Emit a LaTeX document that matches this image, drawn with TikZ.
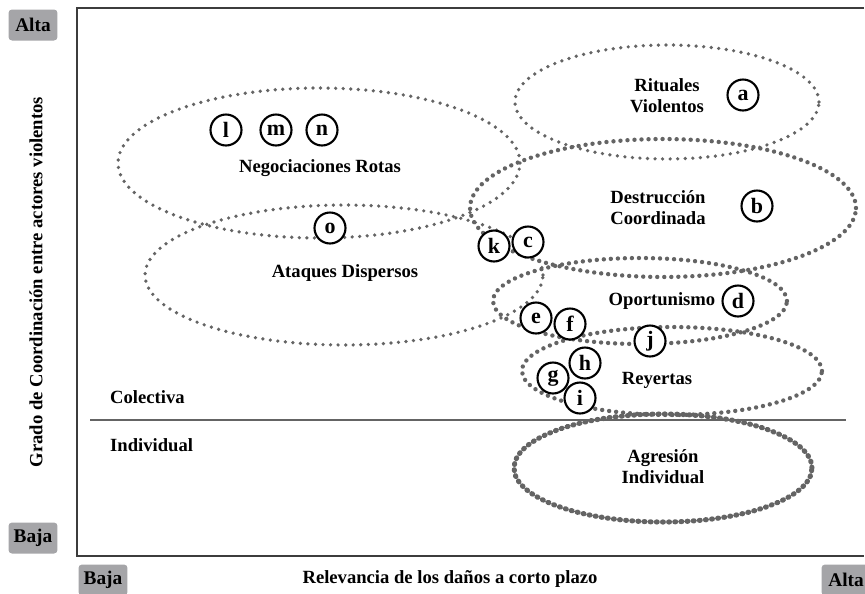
\documentclass[tikz,border=0pt]{standalone}
\usepackage{fontspec}
\setmainfont{Liberation Serif}
\usetikzlibrary{shapes.geometric,positioning}
\definecolor{dotgray}{RGB}{100,100,100}
\definecolor{framegray}{RGB}{60,60,60}
\definecolor{boxgray}{RGB}{165,165,168}
\tikzset
{
    caso/.style      = {circle, draw=black, fill=white, line width=1.2pt, align=center, minimum size=6.2mm, inner sep=0pt, font=\bfseries\fontsize{12.5}{12.5}\selectfont},
    zona/.style      = {ellipse, draw=dotgray, line width=2.1pt, line cap=round, dash pattern=on 0pt off 4.3pt, inner sep=0pt},
    zonafuerte/.style= {zona, line width=2.5pt, dash pattern=on 0pt off 4pt},
    zonamax/.style   = {zona, line width=2.9pt, dash pattern=on 0.5pt off 3pt},
    etiqueta/.style  = {align=center, font=\bfseries\fontsize{10.6}{12}\selectfont},
    nivel/.style     = {fill=boxgray, rounded corners=2pt, minimum width=9.8mm, minimum height=6.2mm, inner sep=1pt, font=\bfseries\fontsize{11}{11}\selectfont}
}
\begin{document}
\begin{tikzpicture}[x=0.02cm, y=-0.02cm]
\useasboundingbox (0,0) rectangle (865,593);
% marco
\draw [framegray, line width=1.4pt] (864,8) -- (77,8) -- (77,556) -- (864,556);
\draw [dotgray, line width=1.2pt] (90,420) -- (846,420);
% zonas
\node [zona, minimum width=6.08cm, minimum height=2.28cm] at (667,102) (rit) {};
\node [zona, minimum width=8.04cm, minimum height=3.0cm] at (319,163) (neg) {};
\node [zona, minimum width=7.96cm, minimum height=2.8cm] at (344,275) (ata) {};
\node [zonafuerte, minimum width=7.72cm, minimum height=2.76cm] at (663,208) (des) {};
\node [zonafuerte, minimum width=5.88cm, minimum height=1.72cm] at (640,301) (opo) {};
\node [zonafuerte, minimum width=6.0cm, minimum height=1.76cm] at (672,371) (rey) {};
\node [zonamax, minimum width=5.96cm, minimum height=2.16cm] at (663,468) (agr) {};
% nombres
\node [etiqueta] at (667,96) (trit) {Rituales\\Violentos};
\node [etiqueta] at (658,208) (tdes) {Destrucción\\Coordinada};
\node [etiqueta] at (320,168) (tneg) {Negociaciones Rotas};
\node [etiqueta] at (345,273) (tata) {Ataques Dispersos};
\node [etiqueta] at (662,301) (topo) {Oportunismo};
\node [etiqueta] at (657,380) (trey) {Reyertas};
\node [etiqueta] at (663,467) (tagr) {Agresión\\Individual};
% casos
\node [caso] at (743,95) (a) {a};
\node [caso] at (757,206) (b) {b};
\node [caso] at (528,242) (c) {c};
\node [caso] at (494,246) (k) {k};
\node [caso] at (738,301) (d) {d};
\node [caso] at (536,318) (e) {e};
\node [caso] at (570,324) (f) {f};
\node [caso] at (650,341) (j) {j};
\node [caso] at (585,363) (h) {h};
\node [caso] at (553,378) (g) {g};
\node [caso] at (580,398) (i) {i};
\node [caso] at (226,130) (l) {l};
\node [caso] at (276,130) (m) {m};
\node [caso] at (322,130) (n) {n};
\node [caso] at (330,228) (o) {o};
% ejes
\node [etiqueta, anchor=west] at (104,397) (col) {Colectiva};
\node [etiqueta, anchor=west] at (104,445) (ind) {Individual};
\node [nivel] at (33,25) (yalta) {Alta};
\node [nivel] at (33,538) (ybaja) {Baja};
\node [nivel] at (103,580) (xbaja) {Baja};
\node [nivel] at (846,580) (xalta) {Alta};
\node [etiqueta, rotate=90] at (36,282) (ytit) {Grado de Coordinación entre actores violentos};
\node [etiqueta] at (450,579) (xtit) {Relevancia de los daños a corto plazo};
\end{tikzpicture}
\end{document}
